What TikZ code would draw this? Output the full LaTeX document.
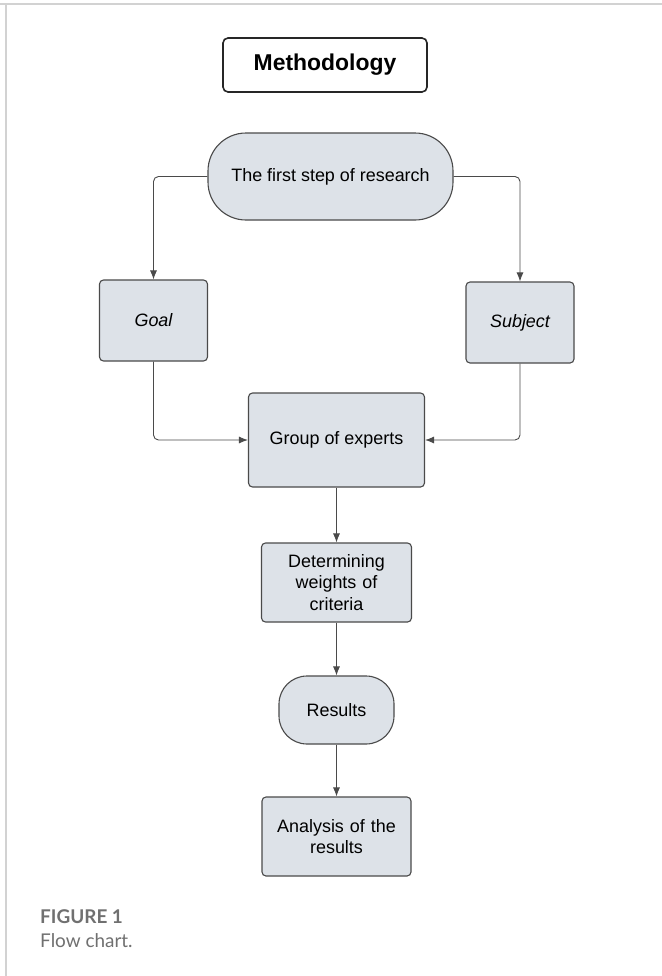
\documentclass[tikz,border=0pt]{standalone}
\usepackage{fontspec}
\setmainfont{Liberation Sans}
\newfontfamily\capfont{Lato}
\usetikzlibrary{arrows.meta}

\definecolor{boxfill}{HTML}{DDE2E8}
\definecolor{boxline}{HTML}{4A4A4A}
\definecolor{frameline}{HTML}{D2D2D2}
\definecolor{capgray}{HTML}{707070}

\tikzset{
  box/.style={draw=boxline, fill=boxfill, line width=1.1bp, rounded corners=4bp,
    align=center, inner sep=0pt, font=\fontsize{18}{21.5}\selectfont},
  flow/.style={draw=boxline, line width=0.9bp, rounded corners=5bp,
    -{Latex[length=9bp,width=7bp]}},
}

\begin{document}
\begin{tikzpicture}[x=1bp,y=-1bp]
\useasboundingbox[fill=white] (0,0) rectangle (662,976);
%\draw[step=50,gray,very thin] (0,0) grid (662,976); %background grid

% frame of the figure
\draw[frameline,line width=1.5bp] (0,4) -- (662,4);
\draw[frameline,line width=1.5bp] (6,4) -- (6,976);

\node[draw=black!85, line width=1.6bp, rounded corners=5bp, minimum width=204bp,
  minimum height=54bp, font=\fontsize{23}{26}\selectfont\bfseries] (title) at (325,65) {Methodology};

%---------------------------------

\node[box, rounded corners=38bp, minimum width=245bp, minimum height=87bp] (first) at (330.5,176.5) {The first step of research};
\node[box, minimum width=108bp, minimum height=81bp, font=\fontsize{18}{21.5}\selectfont\itshape] (goal) at (153.5,320.5) {Goal};
\node[box, minimum width=108bp, minimum height=81bp, font=\fontsize{18}{21.5}\selectfont\itshape] (subject) at (520,322.5) {Subject};
\node[box, minimum width=176bp, minimum height=94bp] (group) at (336.5,440) {Group of experts};
\node[box, minimum width=150bp, minimum height=79bp, text width=140bp] (determ) at (336.5,582.5) {Determining\\ weights of\\ criteria};
\node[box, rounded corners=28bp, minimum width=115bp, minimum height=68bp] (results) at (336.5,710) {Results};
\node[box, minimum width=149bp, minimum height=79bp, text width=140bp] (analysis) at (336.5,836.5) {Analysis of the\\ results};

%---------------------------------

\draw[flow] (first.west) -| (goal.north);
\draw[flow] (first.east) -| (subject.north);
\draw[flow] (goal.south) |- (group.west);
\draw[flow] (subject.south) |- (group.east);
\draw[flow] (group.south) -- (determ.north);
\draw[flow] (determ.south) -- (results.north);
\draw[flow] (results.south) -- (analysis.north);

%---------------------------------

\node[anchor=base west, inner sep=0pt, text=capgray, font=\capfont\fontsize{19}{22}\selectfont\bfseries] (fignum) at (40,923) {FIGURE 1};
\node[anchor=base west, inner sep=0pt, text=capgray, font=\capfont\fontsize{19}{22}\selectfont] (figcap) at (40,947) {Flow chart.};
\end{tikzpicture}
\end{document}
